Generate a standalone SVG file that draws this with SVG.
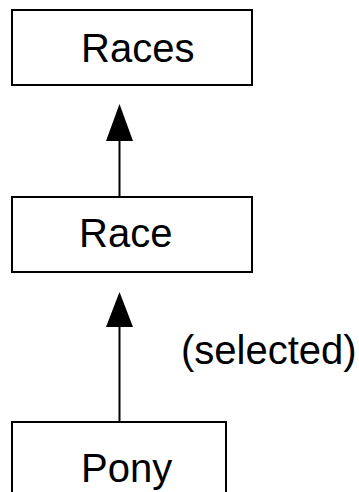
<svg xmlns="http://www.w3.org/2000/svg" width="359" height="492" viewBox="0 0 359 492">
<style>
.box{fill:#fff;stroke:#000;stroke-width:2}
.lbl{font-family:"Liberation Sans",Arial,sans-serif;font-size:40px;fill:#000}
.edge{stroke:#000;stroke-width:2;fill:none}
.head{fill:#000;stroke:none}
</style>
<rect width="359" height="492" fill="#fff"/>
<g id="connectors">
<line class="edge" x1="119.5" y1="141" x2="119.5" y2="197"/>
<polygon class="head" points="119.5,104 106,141 133,141"/>
<line class="edge" x1="119.5" y1="327" x2="119.5" y2="422"/>
<polygon class="head" points="119.5,292 106,327 133,327"/>
<text class="lbl" x="181" y="364">(selected)</text>
</g>
<g id="races">
<rect class="box" x="12" y="10" width="240" height="75"/>
<text class="lbl" x="81" y="62">Races</text>
</g>
<g id="race">
<rect class="box" x="12" y="197" width="240" height="75"/>
<text class="lbl" x="79" y="247">Race</text>
</g>
<g id="pony">
<rect class="box" x="12" y="422" width="214" height="80"/>
<text class="lbl" x="81" y="482">Pony</text>
</g>
</svg>
